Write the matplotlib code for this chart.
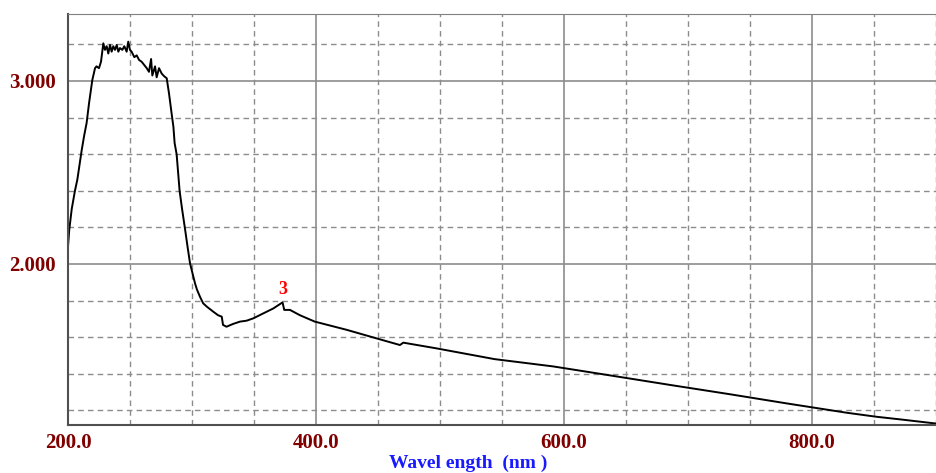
import numpy as np
import matplotlib.pyplot as plt
from matplotlib.ticker import MultipleLocator, FixedLocator

# spectrum (nm, absorbance)
wavelength = [200, 201, 203, 205.6, 207.5, 208.3, 211, 213, 215, 217, 219.6,
              221.8, 223, 225, 226.6, 228.5, 229.8, 231.2, 232.5, 233.9, 235.2,
              236.5, 237.9, 239.3, 240.6, 241.9, 243.8, 245.4, 247.3, 248.6, 250,
              251.3, 253.5, 255.4, 257.3, 259.4, 261.5, 263.5, 265.3, 267, 268,
              270.2, 271.5, 273.4, 275.6, 277.7, 279.6, 281.5, 283.6, 285, 286,
              287.6, 290, 292, 294.4, 296.5, 298.4, 300, 302.4, 304, 306.5, 309,
              311.9, 317, 321, 324, 325, 327.8, 333, 338.7, 344, 349.5, 357.5,
              365.6, 373, 374.4, 379, 387, 399, 424.8, 451.6, 467.7, 470.4, 497,
              544, 591.4, 640, 685.5, 733.9, 779.6, 828, 852, 872, 900]
absorbance = [2.095, 2.186, 2.30, 2.40, 2.46, 2.496, 2.62, 2.70, 2.77, 2.88, 3.005,
              3.07, 3.08, 3.07, 3.105, 3.206, 3.17, 3.19, 3.15, 3.197, 3.16,
              3.19, 3.17, 3.197, 3.16, 3.18, 3.17, 3.19, 3.16, 3.215, 3.17,
              3.16, 3.13, 3.14, 3.115, 3.105, 3.087, 3.07, 3.05, 3.12, 3.03,
              3.08, 3.02, 3.07, 3.04, 3.025, 3.015, 2.93, 2.82, 2.75, 2.66,
              2.60, 2.40, 2.30, 2.19, 2.09, 2.004, 1.96, 1.895, 1.86, 1.82, 1.785,
              1.767, 1.74, 1.72, 1.712, 1.667, 1.657, 1.672, 1.685, 1.69, 1.703, 1.73,
              1.757, 1.79, 1.749, 1.749, 1.72, 1.685, 1.64, 1.588, 1.557, 1.57, 1.539,
              1.48, 1.44, 1.388, 1.339, 1.288, 1.238, 1.187, 1.165, 1.15, 1.128]

peak_label = '3'
peak_nm = 373
peak_abs = 1.79

x_major = [200, 400, 600, 800]
x_labels = ['200.0', '400.0', '600.0', '800.0']
y_major = [2.0, 3.0]
y_labels = ['2.000', '3.000']

tick_color = '#800000'
grid_color = '#8c8c8c'

fig = plt.figure(figsize=(9.37, 4.73), dpi=100)
ax = fig.add_axes([68 / 937, 48 / 473, 1 - 68 / 937, 411 / 473])

ax.plot(wavelength, absorbance, color='black', linewidth=1.4)

ax.set_xlim(200, 900.8)
ax.set_ylim(1.12, 3.366)

ax.xaxis.set_major_locator(FixedLocator(x_major))
ax.xaxis.set_minor_locator(MultipleLocator(50))
ax.yaxis.set_major_locator(FixedLocator(y_major))
ax.yaxis.set_minor_locator(FixedLocator([1.2, 1.4, 1.6, 1.8, 2.2, 2.4, 2.6, 2.8, 3.2]))
ax.set_xticklabels(x_labels)
ax.set_yticklabels(y_labels)

ax.grid(which='major', color=grid_color, linestyle='-', linewidth=1.2)
ax.grid(which='minor', color=grid_color, linestyle=(0, (4, 3)), linewidth=1.0)
ax.tick_params(which='both', length=0)
ax.tick_params(axis='x', pad=6)
ax.tick_params(axis='y', pad=9)

for lab in ax.get_xticklabels() + ax.get_yticklabels():
    lab.set_fontfamily('Liberation Serif')
    lab.set_fontweight('bold')
    lab.set_fontsize(15)
    lab.set_color(tick_color)

# axis title sits at the middle of the whole figure
fig.text(0.5, 10 / 473, 'Wavel ength  (nm )', ha='center', va='center',
         fontfamily='Liberation Serif', fontweight='bold', fontsize=14, color='#1a1aff')

ax.annotate(peak_label, (peak_nm, peak_abs), xytext=(0, 3), textcoords='offset points',
            ha='center', va='bottom', color='red', fontweight='bold', fontsize=13,
            fontfamily='Liberation Serif')

ax.spines['right'].set_visible(False)
ax.spines['left'].set_color('#505050')
ax.spines['bottom'].set_color('#505050')
ax.spines['top'].set_color('#808080')
ax.spines['left'].set_linewidth(1.5)
ax.spines['bottom'].set_linewidth(1.5)

fig.savefig('out.png', dpi=100)
